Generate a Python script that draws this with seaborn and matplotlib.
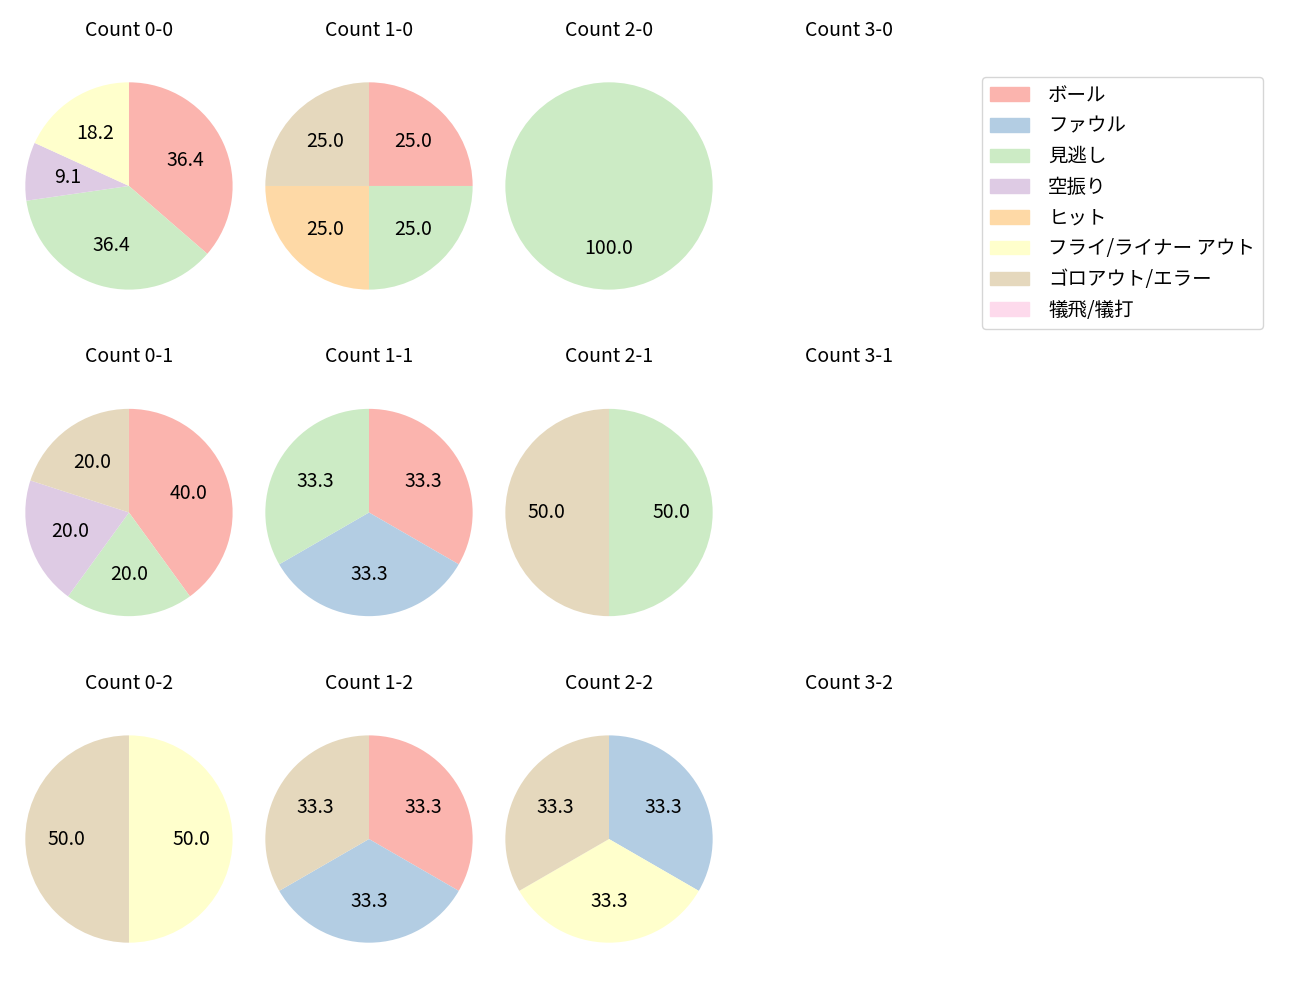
import matplotlib
matplotlib.use("Agg")
import matplotlib.pyplot as plt
import matplotlib.patches as mpatches
import seaborn as sns

sns.set_theme(style="white")
plt.rcParams['font.family'] = ['Noto Sans CJK JP', 'DejaVu Sans']
plt.rcParams['font.size'] = 14
plt.rcParams['text.color'] = 'black'

# result categories (legend order)
categories = ['ボール', 'ファウル', '見逃し', '空振り', 'ヒット',
              'フライ/ライナー アウト', 'ゴロアウト/エラー', '犠飛/犠打']

# counts per ball-strike situation, same order as categories
count_titles = [['Count 0-0', 'Count 1-0', 'Count 2-0', 'Count 3-0'],
                ['Count 0-1', 'Count 1-1', 'Count 2-1', 'Count 3-1'],
                ['Count 0-2', 'Count 1-2', 'Count 2-2', 'Count 3-2']]
c00 = [4, 0, 4, 1, 0, 2, 0, 0]
c10 = [1, 0, 1, 0, 1, 0, 1, 0]
c20 = [0, 0, 1, 0, 0, 0, 0, 0]
c01 = [2, 0, 1, 1, 0, 0, 1, 0]
c11 = [1, 1, 1, 0, 0, 0, 0, 0]
c21 = [0, 0, 1, 0, 0, 0, 1, 0]
c02 = [0, 0, 0, 0, 0, 1, 1, 0]
c12 = [1, 1, 0, 0, 0, 0, 1, 0]
c22 = [0, 1, 0, 0, 0, 1, 1, 0]
count_values = [[c00, c10, c20, None],
                [c01, c11, c21, None],
                [c02, c12, c22, None]]

colors = sns.color_palette('Pastel1', len(categories))

fig, axes = plt.subplots(3, 4, figsize=(13, 10))
plt.subplots_adjust(left=0.0115, right=0.7408, top=0.956, bottom=0.019,
                    wspace=0.0526, hspace=0.15)

for r in range(3):
    for c in range(4):
        ax = axes[r, c]
        ax.set_title(count_titles[r][c], fontsize=14)
        vals = count_values[r][c]
        if vals is None:
            ax.axis('off')
            continue
        idx = [i for i, v in enumerate(vals) if v > 0]
        ax.pie([vals[i] for i in idx],
               colors=[colors[i] for i in idx],
               autopct='%.1f', startangle=90, counterclock=False,
               wedgeprops={'linewidth': 0},
               textprops={'fontsize': 14})
        ax.axis('equal')

handles = [mpatches.Patch(color=colors[i], label=categories[i])
           for i in range(len(categories))]
fig.legend(handles=handles, loc='upper left',
           bbox_to_anchor=(982 / 1300, 1 - 77 / 1000), borderaxespad=0,
           fontsize=14, handletextpad=1.0)

plt.savefig('out.png', dpi=100)
